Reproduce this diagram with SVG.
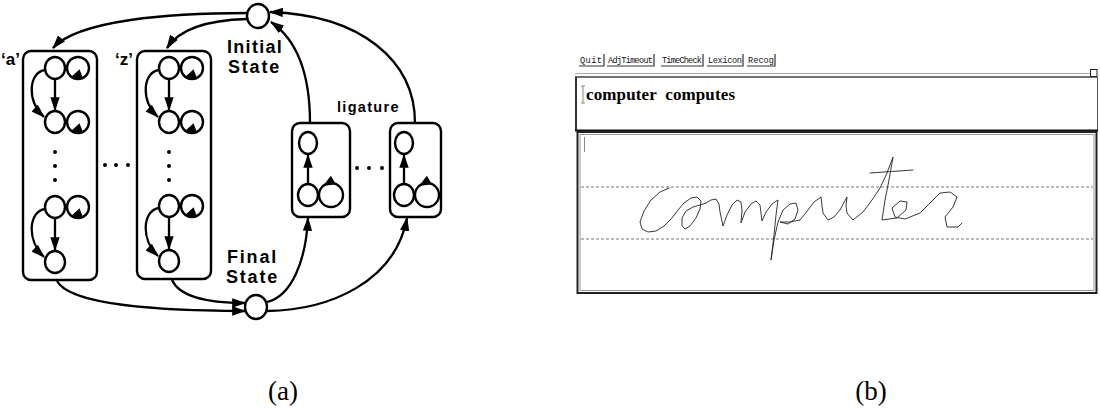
<svg xmlns="http://www.w3.org/2000/svg" width="1100" height="409" viewBox="0 0 1100 409">
  <style>
    .box { fill: none; stroke: #000; stroke-width: 2.4; }
    .st { fill: #fff; stroke: #000; stroke-width: 2.4; }
    .loop { fill: none; stroke: #000; stroke-width: 2.4; }
    .edge { fill: none; stroke: #000; stroke-width: 2.3; }
    .lbl { font-family: "Liberation Sans", Arial, sans-serif; font-weight: bold; fill: #000; }
    .cap { font-family: "Liberation Serif", "Times New Roman", serif; font-size: 27px; fill: #000; text-anchor: middle; }
    .btn { font-family: "Liberation Mono", "DejaVu Sans Mono", monospace; font-size: 8.6px; fill: #111; }
    .dash { stroke: #777; stroke-width: 1; stroke-dasharray: 3 2; }
  </style>
  <defs>
    <marker id="arr" viewBox="0 0 12 8" refX="11" refY="4" markerWidth="14" markerHeight="9.5" markerUnits="userSpaceOnUse" orient="auto">
      <path d="M0,0 L12,4 L0,8 Z" fill="#000"/>
    </marker>
    <path id="tri" d="M0,0 L-12,-5 L-12,5 Z" fill="#000"/>
  </defs>

  <rect width="1100" height="409" fill="#fff"/>

  <!-- (a) letter model network -->
  <g id="model-a">
    <rect class="box" x="23" y="51" width="74" height="229" rx="8"/>
    <text class="lbl" x="1" y="65" font-size="17">‘a’</text>
    <g id="a-states">
      <ellipse class="st" cx="55" cy="68" rx="10" ry="11"/>
      <circle class="loop" cx="78" cy="68" r="11"/>
      <use href="#tri" transform="translate(70,78) rotate(160)"/>
      <ellipse class="st" cx="55" cy="122" rx="10" ry="11"/>
      <circle class="loop" cx="78" cy="122" r="11"/>
      <use href="#tri" transform="translate(70,132) rotate(160)"/>
      <line class="edge" x1="55" y1="79" x2="55" y2="110" marker-end="url(#arr)"/>
      <path class="edge" d="M45,70 C29,72 26,100 44,117" marker-end="url(#arr)"/>
      <circle cx="55" cy="152" r="2"/>
      <circle cx="55" cy="166" r="2"/>
      <circle cx="55" cy="180" r="2"/>
      <ellipse class="st" cx="55" cy="207" rx="10" ry="11"/>
      <circle class="loop" cx="78" cy="207" r="11"/>
      <use href="#tri" transform="translate(70,217) rotate(160)"/>
      <ellipse class="st" cx="55" cy="262" rx="10" ry="11"/>
      <line class="edge" x1="55" y1="218" x2="55" y2="250" marker-end="url(#arr)"/>
      <path class="edge" d="M45,209 C29,211 26,240 44,257" marker-end="url(#arr)"/>
    </g>
  </g>

  <g id="dots-az">
    <circle cx="105" cy="165" r="2"/>
    <circle cx="116" cy="165" r="2"/>
    <circle cx="128" cy="165" r="2"/>
  </g>

  <g id="model-z">
    <rect class="box" x="137" y="51" width="74" height="228" rx="8"/>
    <text class="lbl" x="115" y="65" font-size="17">‘z’</text>
    <g id="z-states">
      <ellipse class="st" cx="169" cy="68" rx="10" ry="11"/>
      <circle class="loop" cx="192" cy="68" r="11"/>
      <use href="#tri" transform="translate(184,78) rotate(160)"/>
      <ellipse class="st" cx="169" cy="122" rx="10" ry="11"/>
      <circle class="loop" cx="192" cy="122" r="11"/>
      <use href="#tri" transform="translate(184,132) rotate(160)"/>
      <line class="edge" x1="169" y1="79" x2="169" y2="110" marker-end="url(#arr)"/>
      <path class="edge" d="M159,70 C143,72 140,100 158,117" marker-end="url(#arr)"/>
      <circle cx="169" cy="152" r="2"/>
      <circle cx="169" cy="166" r="2"/>
      <circle cx="169" cy="180" r="2"/>
      <ellipse class="st" cx="169" cy="206" rx="10" ry="11"/>
      <circle class="loop" cx="192" cy="206" r="11"/>
      <use href="#tri" transform="translate(184,216) rotate(160)"/>
      <ellipse class="st" cx="169" cy="261" rx="10" ry="11"/>
      <line class="edge" x1="169" y1="217" x2="169" y2="249" marker-end="url(#arr)"/>
      <path class="edge" d="M159,208 C143,210 140,239 158,256" marker-end="url(#arr)"/>
    </g>
  </g>

  <g id="ligature-1">
    <rect class="box" x="292" y="123" width="58" height="94" rx="8"/>
    <ellipse class="st" cx="308" cy="143" rx="9" ry="11"/>
    <ellipse class="st" cx="308" cy="195" rx="10" ry="11"/>
    <circle class="loop" cx="331" cy="195" r="12"/>
    <use href="#tri" transform="translate(323,186) rotate(150)"/>
    <line class="edge" x1="308" y1="184" x2="308" y2="155" marker-end="url(#arr)"/>
  </g>

  <g id="dots-lig">
    <circle cx="357" cy="168" r="2"/>
    <circle cx="369" cy="168" r="2"/>
    <circle cx="382" cy="168" r="2"/>
  </g>

  <g id="ligature-2">
    <rect class="box" x="390" y="123" width="51" height="94" rx="8"/>
    <ellipse class="st" cx="404" cy="143" rx="9" ry="11"/>
    <ellipse class="st" cx="404" cy="195" rx="10" ry="11"/>
    <circle class="loop" cx="427" cy="195" r="12"/>
    <use href="#tri" transform="translate(419,186) rotate(150)"/>
    <line class="edge" x1="404" y1="184" x2="404" y2="155" marker-end="url(#arr)"/>
  </g>

  <text class="lbl" x="337" y="112" font-size="14.5" letter-spacing="1.3">ligature</text>

  <g id="initial-state">
    <ellipse class="st" cx="258" cy="16" rx="11" ry="12"/>
    <text class="lbl" x="227" y="53" font-size="18" letter-spacing="1.3">Initial</text>
    <text class="lbl" x="228" y="73" font-size="18" letter-spacing="1.8">State</text>
  </g>

  <g id="final-state">
    <ellipse class="st" cx="256" cy="307" rx="11" ry="12"/>
    <text class="lbl" x="227" y="263" font-size="18" letter-spacing="1.8">Final</text>
    <text class="lbl" x="226" y="283" font-size="18" letter-spacing="1.8">State</text>
  </g>

  <g id="connectors">
    <path class="edge" d="M247,13 C170,13 78,20 53,48" marker-end="url(#arr)"/>
    <path class="edge" d="M247,19 C210,20 180,28 167,48" marker-end="url(#arr)"/>
    <path class="edge" d="M310,123 C310,80 300,42 271,22" marker-end="url(#arr)"/>
    <path class="edge" d="M415,123 C415,60 360,15 270,12" marker-end="url(#arr)"/>
    <path class="edge" d="M57,281 C70,305 160,311 245,311" marker-end="url(#arr)"/>
    <path class="edge" d="M172,280 C180,298 210,303 245,303" marker-end="url(#arr)"/>
    <path class="edge" d="M267,302 C292,296 306,260 308,218" marker-end="url(#arr)"/>
    <path class="edge" d="M267,311 C330,310 395,282 407,218" marker-end="url(#arr)"/>
  </g>

  <text class="cap" x="283" y="400">(a)</text>

  <!-- (b) recognizer window -->
  <g id="toolbar">
    <g id="btn-quit">
      <path d="M604,54 V66 H579" fill="none" stroke="#333" stroke-width="1.2"/>
      <text class="btn" x="580" y="63" textLength="22">Quit</text>
    </g>
    <g id="btn-adjtimeout">
      <path d="M654,54 V66 H607" fill="none" stroke="#333" stroke-width="1.2"/>
      <text class="btn" x="608" y="63" textLength="45">AdjTimeout</text>
    </g>
    <g id="btn-timecheck">
      <path d="M703,54 V66 H661" fill="none" stroke="#333" stroke-width="1.2"/>
      <text class="btn" x="662" y="63" textLength="40">TimeCheck</text>
    </g>
    <g id="btn-lexicon">
      <path d="M743,54 V66 H707" fill="none" stroke="#333" stroke-width="1.2"/>
      <text class="btn" x="708" y="63" textLength="34">Lexicon</text>
    </g>
    <g id="btn-recog">
      <path d="M775,54 V66 H747" fill="none" stroke="#333" stroke-width="1.2"/>
      <text class="btn" x="748" y="63" textLength="26">Recog</text>
    </g>
  </g>

  <g id="separator">
    <line x1="575" y1="73.5" x2="1091" y2="73.5" stroke="#aaa" stroke-width="1"/>
    <line x1="575" y1="77" x2="1097" y2="77" stroke="#444" stroke-width="1.6"/>
    <rect x="1090.5" y="69.5" width="6.5" height="7" fill="#fff" stroke="#222" stroke-width="1"/>
  </g>

  <g id="text-pane">
    <line x1="576" y1="77" x2="576" y2="131" stroke="#333" stroke-width="2"/>
    <line x1="1097.5" y1="77" x2="1097.5" y2="131" stroke="#555" stroke-width="1"/>
    <path d="M581,86 H585 M583,86 V103 M581,103 H585" stroke="#888" stroke-width="1" fill="none"/>
    <text x="586" y="100" font-family="'Liberation Serif', 'Times New Roman', serif" font-weight="bold" font-size="17" textLength="149" xml:space="preserve">computer  computes</text>
    <line x1="575" y1="130.5" x2="1098" y2="130.5" stroke="#111" stroke-width="2"/>
  </g>

  <g id="ink-pane">
    <rect x="577.5" y="132" width="519" height="161" fill="none" stroke="#222" stroke-width="2"/>
    <rect x="580" y="134.5" width="514" height="156" fill="none" stroke="#999" stroke-width="1"/>
    <line x1="584.5" y1="137" x2="584.5" y2="152" stroke="#888" stroke-width="1"/>
    <line class="dash" x1="581" y1="187" x2="1093" y2="187"/>
    <line class="dash" x1="581" y1="239" x2="1093" y2="239"/>
    <g id="ink" fill="none" stroke="#222" stroke-width="0.9" stroke-linejoin="round" stroke-linecap="round">
      <polyline points="669,188 660,192 651,200 644,211 640,222 642,229 648,232 656,231 664,226 672,218 678,210 684,203 691,198 697,197 701,201 700,209 696,218 690,226 685,229 682,226 682,218 686,211 693,207 700,205 706,203 711,200 716,199 719,204 720,212 723,226 727,215 732,205 737,200 741,202 742,210 741,223 745,212 751,204 756,201 760,205 761,213 762,221 766,212 772,204 778,200 776,215 774,235 771,260 774,240 778,222 783,210 790,204 796,203 798,210 795,219 788,224 780,222 790,222 800,220 808,210 814,202 821,197 822,206 823,213 828,220 834,217 840,210 847,197 846,206 847,213 853,220 863,212 872,200 880,188 887,173 893,157 889,180 885,200 882,220 889,219 897,218 906,210 907,202 900,201 892,208 895,217 905,219 920,213 933,200 940,193 950,192 957,197 953,207 945,217 947,227 958,227 962,223"/>
      <line x1="870" y1="173" x2="913" y2="170"/>
    </g>
  </g>

  <text class="cap" x="871" y="400">(b)</text>
</svg>
